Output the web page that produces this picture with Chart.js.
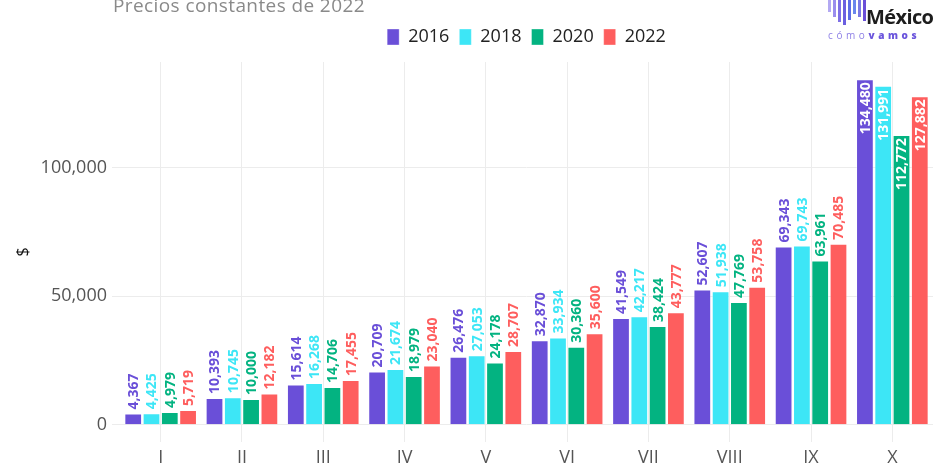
<!DOCTYPE html>
<html lang="es">
<head>
<meta charset="utf-8">
<script src="https://cdn.jsdelivr.net/npm/chart.js@4.4.1/dist/chart.umd.min.js"></script>
<style>
    html, body { margin: 0; padding: 0; background: #fff; }
    #wrap { position: relative; width: 936px; height: 463px; overflow: hidden; }
    #subtitle { position: absolute; left: 113px; top: -8px; font: 19px "Open Sans", sans-serif; letter-spacing: 0.4px; color: #8a8a8a; }
    #logo { position: absolute; left: 826px; top: 0; width: 110px; height: 44px; }
    #logo .bars { position: absolute; left: 2px; top: 0; }
    #logo .bars span { position: absolute; top: 0; width: 3px; }
    #logo .name { position: absolute; left: 40px; top: 3px; font: bold 20px "Open Sans", sans-serif; color: #1d1d1d; letter-spacing: -0.6px; }
    #logo .sub { position: absolute; left: 2px; top: 28px; font: 10px "Open Sans", sans-serif; letter-spacing: 3.6px; color: #8d7fe6; }
    #logo .sub b { color: #6b55dc; font-weight: 800; }
</style>
</head>
<body>
<div id="wrap">
    <canvas id="chart" width="936" height="463"></canvas>
    <div id="subtitle">Precios constantes de 2022</div>
    <div id="logo">
        <div class="bars" id="logoBars"></div>
        <div class="name">México</div>
        <div class="sub">cómo<b>vamos</b></div>
    </div>
</div>
<script>
// 資料
const categories = ['I', 'II', 'III', 'IV', 'V', 'VI', 'VII', 'VIII', 'IX', 'X'];
const years = ['2016', '2018', '2020', '2022'];
const values2016 = [4367, 10393, 15614, 20709, 26476, 32870, 41549, 52607, 69343, 134480];
const values2018 = [4425, 10745, 16268, 21674, 27053, 33934, 42217, 51938, 69743, 131991];
const values2020 = [4979, 10000, 14706, 18979, 24178, 30360, 38424, 47769, 63961, 112772];
const values2022 = [5719, 12182, 17455, 23040, 28707, 35600, 43777, 53758, 70485, 127882];
const yTicks = [0, 50000, 100000];

const colors = ['#6a4fd8', '#3de6f6', '#03b381', '#fe5e5e'];
const series = [values2016, values2018, values2020, values2022];

// logo bars
const logoBars = document.getElementById('logoBars');
[[0, 12, '#b3a9f2'], [5, 17, '#9a8ded'], [10, 22, '#7e6fe6'], [15, 25, '#6b5fe0'], [20, 20, '#5d6be6'], [25, 14, '#6a86ec'], [30, 17, '#7b79e4'], [35, 21, '#6a4fd8']].forEach(b => {
    const s = document.createElement('span');
    s.style.left = b[0] + 'px';
    s.style.height = b[1] + 'px';
    s.style.background = b[2];
    logoBars.appendChild(s);
});

// 數值標籤
const valueLabels = {
    id: 'valueLabels',
    afterDatasetsDraw(chart) {
        const ctx = chart.ctx;
        ctx.save();
        ctx.font = 'bold 14px "Open Sans", sans-serif';
        ctx.textBaseline = 'middle';
        chart.data.datasets.forEach((ds, i) => {
            const meta = chart.getDatasetMeta(i);
            meta.data.forEach((bar, j) => {
                const text = ds.data[j].toLocaleString('en-US');
                ctx.save();
                ctx.translate(bar.x, bar.y);
                ctx.rotate(-Math.PI / 2);
                if (j === categories.length - 1) {
                    ctx.fillStyle = '#ffffff';
                    ctx.textAlign = 'right';
                    ctx.fillText(text, -3, 1);
                } else {
                    ctx.fillStyle = colors[i];
                    ctx.textAlign = 'left';
                    ctx.fillText(text, 4, 1);
                }
                ctx.restore();
            });
        });
        ctx.restore();
    }
};

const legendSpace = {
    id: 'legendSpace',
    beforeInit(chart) {
        const fit = chart.legend.fit;
        chart.legend.fit = function() {
            fit.bind(chart.legend)();
            this.height += 6;
        };
    }
};

new Chart(document.getElementById('chart'), {
    type: 'bar',
    data: {
        labels: categories,
        datasets: years.map((y, i) => ({
            label: y,
            data: series[i],
            backgroundColor: colors[i],
            borderColor: 'rgba(255,255,255,0.35)',
            borderWidth: 1,
            categoryPercentage: 0.9,
            barPercentage: 0.97
        }))
    },
    options: {
        responsive: false,
        animation: false,
        layout: { padding: { top: 18, right: 3, left: 0, bottom: 0 } },
        plugins: {
            legend: {
                position: 'top',
                fullSize: false,
                labels: {
                    boxWidth: 12,
                    boxHeight: 16,
                    padding: 10,
                    color: '#222',
                    font: { family: '"Open Sans", sans-serif', size: 18 }
                }
            },
            tooltip: { enabled: false }
        },
        scales: {
            x: {
                grid: { color: '#ececec', offset: false, drawTicks: false },
                border: { display: false },
                ticks: { color: '#555', padding: 5, font: { family: '"Open Sans", sans-serif', size: 18 } },
                afterFit(scale) { scale.height = 21; }
            },
            y: {
                min: -6724,
                max: 141204,
                afterBuildTicks(scale) { scale.ticks = yTicks.map(v => ({ value: v })); },
                grid: { color: '#ececec', tickColor: '#ececec', tickLength: 8 },
                border: { display: false },
                ticks: {
                    color: '#555',
                    padding: 5,
                    font: { family: '"Open Sans", sans-serif', size: 18 },
                    callback: v => v.toLocaleString('en-US')
                },
                title: {
                    display: true,
                    text: '$',
                    color: '#111',
                    padding: { top: 14 },
                    font: { family: '"Open Sans", sans-serif', size: 16 }
                },
                afterFit(scale) { scale.width = 120; }
            }
        }
    },
    plugins: [valueLabels, legendSpace]
});
</script>
</body>
</html>
